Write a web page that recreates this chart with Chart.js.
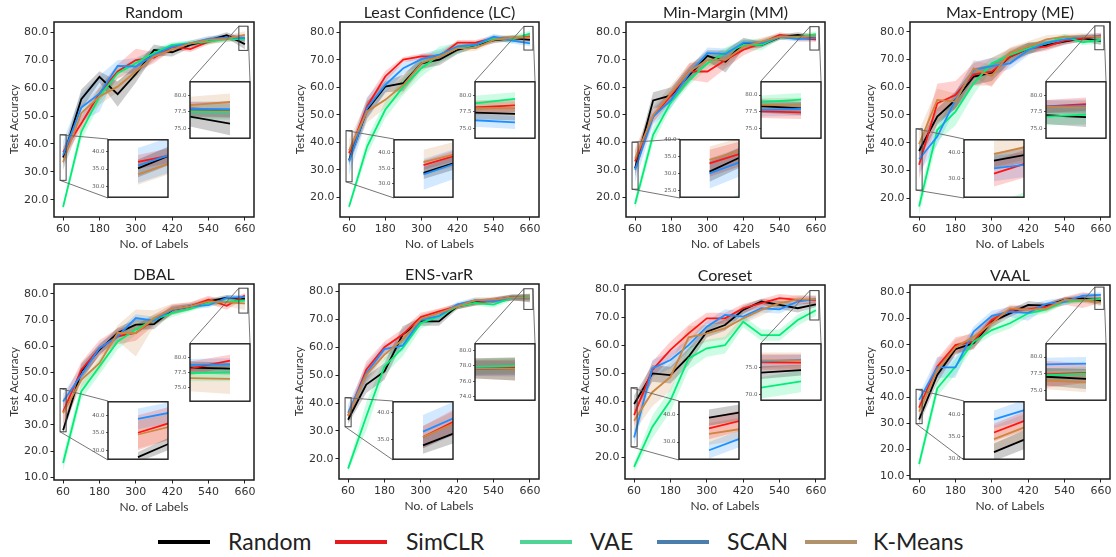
<!DOCTYPE html>
<html>
<head>
<meta charset="utf-8">
<script src="https://cdn.jsdelivr.net/npm/chart.js@4.4.1/dist/chart.umd.min.js"></script>
<style>
  html, body { margin: 0; padding: 0; background: #fff; }
  #fig { position: relative; width: 1116px; height: 557px; overflow: hidden; background: #fff; }
  #fig canvas { position: absolute; }
  .lg-line { position: absolute; height: 4px; width: 52px; }
  .lg-text { position: absolute; font-family: Lato, "DejaVu Sans", sans-serif; font-size: 23px; line-height: 26px; color: #222; white-space: nowrap; }
</style>
</head>
<body>
<div id="fig"></div>
<script>
// ---- data --------------------------------------------------------------
const LABEL_COUNTS = [60, 120, 180, 240, 300, 360, 420, 480, 540, 600, 660];
const X_TICKS = [60, 180, 300, 420, 540, 660];
const METHODS = ['Random', 'SimCLR', 'VAE', 'SCAN', 'K-Means'];
const STRATEGIES = ['Random', 'Least Confidence (LC)', 'Min-Margin (MM)', 'Max-Entropy (ME)',
                    'DBAL', 'ENS-varR', 'Coreset', 'VAAL'];

// mean test accuracy per method (rows: Random, SimCLR, VAE, SCAN, K-Means)
const RANDOM_ACC = [
  [35.2, 56.0, 64.0, 57.8, 65.0, 73.6, 72.8, 75.4, 77.0, 78.9, 75.7],
  [37.0, 47.3, 58.0, 65.9, 70.0, 70.9, 74.8, 73.9, 76.6, 78.0, 77.8],
  [17.5, 44.3, 57.0, 65.3, 68.9, 72.5, 75.4, 76.0, 76.6, 77.5, 77.5],
  [36.0, 53.0, 58.0, 67.9, 67.7, 71.9, 74.8, 76.0, 77.6, 78.0, 77.9],
  [33.5, 51.0, 57.0, 60.5, 65.9, 71.3, 73.7, 76.0, 77.2, 77.6, 79.0]
];
const RANDOM_STD = [
  [2.5, 3.5, 2.0, 4.5, 3.0, 2.0, 1.5, 1.0, 1.0, 1.0, 1.8],
  [2.0, 2.5, 2.5, 2.5, 4.0, 2.0, 1.0, 1.0, 1.0, 1.0, 1.2],
  [1.0, 3.0, 3.0, 2.0, 1.5, 1.5, 1.0, 1.0, 1.0, 1.0, 1.2],
  [5.0, 5.0, 6.5, 2.0, 3.0, 2.0, 1.0, 1.0, 1.0, 1.0, 1.2],
  [3.0, 3.0, 3.0, 2.0, 2.0, 1.5, 1.0, 1.0, 1.2, 1.2, 1.3]
];

const LC_ACC = [
  [33.5, 51.8, 60.2, 61.5, 68.7, 70.0, 73.6, 75.4, 77.0, 77.8, 77.2],
  [36.0, 53.0, 63.9, 70.0, 71.2, 71.2, 76.2, 76.2, 77.8, 77.6, 78.5],
  [16.5, 38.4, 51.8, 60.2, 66.9, 71.8, 74.2, 75.4, 77.8, 77.4, 79.5],
  [33.0, 52.4, 60.8, 66.9, 70.2, 71.8, 74.8, 75.4, 78.4, 76.9, 75.9],
  [37.0, 51.2, 55.4, 60.8, 68.7, 71.2, 74.2, 74.2, 77.2, 78.0, 78.1]
];
const LC_STD = [
  [2.0, 3.0, 2.0, 3.0, 2.0, 2.0, 1.5, 1.0, 1.0, 1.0, 1.0],
  [1.5, 3.0, 2.0, 1.0, 1.0, 1.0, 1.0, 1.0, 1.0, 1.0, 1.0],
  [1.0, 3.0, 3.0, 3.0, 3.0, 3.0, 2.0, 1.0, 1.0, 1.5, 1.0],
  [5.0, 4.0, 3.0, 2.0, 2.0, 2.0, 1.5, 1.0, 1.0, 1.0, 1.0],
  [4.0, 4.0, 3.0, 3.0, 3.0, 2.0, 1.5, 1.0, 1.0, 1.0, 1.0]
];

const MM_ACC = [
  [30.5, 55.2, 57.0, 64.5, 71.4, 69.3, 76.0, 75.4, 78.2, 79.0, 78.0],
  [33.0, 49.3, 57.2, 65.7, 65.7, 69.9, 73.6, 76.0, 79.0, 77.8, 77.4],
  [17.5, 42.7, 54.8, 62.7, 68.7, 72.4, 75.4, 75.4, 78.4, 78.2, 79.3],
  [30.0, 49.3, 55.4, 65.1, 72.4, 72.1, 76.2, 76.0, 78.4, 77.5, 77.9],
  [34.0, 49.9, 57.8, 65.7, 69.9, 69.9, 74.8, 76.6, 78.4, 78.4, 78.6]
];
const MM_STD = [
  [3.0, 3.0, 3.0, 3.0, 2.0, 4.0, 2.0, 1.0, 1.0, 1.0, 1.0],
  [4.0, 2.0, 2.0, 3.0, 4.0, 3.0, 2.0, 1.5, 1.0, 1.0, 1.0],
  [2.0, 3.0, 2.0, 2.0, 2.0, 2.0, 2.0, 2.0, 1.0, 1.0, 1.0],
  [4.5, 3.0, 3.0, 2.0, 2.0, 2.0, 1.0, 1.0, 1.0, 1.0, 1.0],
  [4.0, 3.0, 3.0, 3.0, 2.0, 2.0, 1.5, 1.5, 1.0, 1.0, 1.0]
];

const ME_ACC = [
  [37.0, 49.4, 55.4, 63.8, 65.2, 71.0, 74.0, 75.2, 76.4, 77.6, 76.7],
  [32.0, 54.2, 57.2, 64.6, 65.6, 71.0, 74.0, 74.6, 76.8, 77.6, 78.7],
  [17.0, 44.6, 51.2, 61.4, 68.6, 71.6, 74.0, 75.8, 78.2, 76.2, 77.1],
  [34.0, 42.2, 55.4, 66.2, 67.6, 68.6, 73.4, 76.0, 77.2, 78.2, 78.4],
  [39.5, 55.4, 54.8, 66.8, 64.0, 72.4, 74.6, 77.2, 78.2, 78.4, 78.2]
];
const ME_STD = [
  [3.0, 3.0, 3.0, 3.0, 3.0, 2.0, 2.0, 1.5, 1.0, 1.0, 1.5],
  [5.0, 7.0, 5.0, 4.0, 5.0, 3.0, 2.0, 1.5, 1.5, 1.0, 1.0],
  [3.0, 4.0, 5.0, 4.0, 2.0, 2.0, 2.0, 1.0, 1.0, 1.0, 1.5],
  [5.0, 3.0, 3.0, 3.0, 3.0, 2.0, 2.0, 1.0, 1.0, 1.0, 1.0],
  [5.0, 4.0, 3.0, 3.0, 4.0, 2.0, 2.0, 1.5, 1.0, 1.0, 1.0]
];

const DBAL_ACC = [
  [28.0, 50.4, 58.7, 65.1, 68.3, 68.5, 74.0, 75.3, 77.2, 78.6, 78.1],
  [35.0, 51.0, 59.3, 63.8, 65.1, 70.2, 74.0, 75.3, 77.8, 75.5, 79.4],
  [15.5, 42.8, 52.3, 61.9, 66.4, 70.2, 72.7, 74.3, 76.6, 77.0, 77.5],
  [39.0, 49.1, 59.3, 63.8, 70.8, 69.8, 74.0, 75.3, 75.7, 78.5, 78.8],
  [34.5, 47.2, 53.6, 65.1, 65.1, 70.8, 74.3, 75.3, 77.2, 76.8, 76.4]
];
const DBAL_STD = [
  [1.5, 3.0, 2.0, 2.0, 2.0, 2.0, 1.5, 1.0, 1.0, 1.0, 1.0],
  [5.0, 3.0, 3.0, 3.0, 3.0, 2.0, 2.0, 1.5, 1.5, 1.5, 1.0],
  [3.0, 3.0, 3.0, 3.0, 2.0, 2.0, 1.5, 1.0, 1.0, 1.0, 1.5],
  [3.0, 3.0, 2.0, 2.0, 1.5, 1.5, 1.0, 1.0, 1.0, 1.0, 1.0],
  [4.0, 3.0, 3.0, 3.0, 9.0, 3.0, 2.0, 1.5, 1.5, 1.5, 2.5]
];

const ENS_ACC = [
  [34.0, 46.6, 51.3, 64.5, 69.2, 69.2, 74.6, 76.0, 76.8, 77.8, 77.6],
  [35.5, 51.9, 60.0, 64.5, 70.8, 72.8, 74.6, 75.8, 76.8, 77.6, 77.8],
  [16.5, 35.2, 53.1, 59.7, 68.6, 71.0, 74.6, 75.8, 75.2, 77.6, 78.0],
  [36.5, 50.7, 59.3, 60.5, 69.8, 71.2, 75.2, 76.8, 76.4, 77.8, 77.6],
  [35.5, 50.1, 57.3, 62.7, 70.1, 72.2, 74.6, 76.8, 77.0, 77.8, 77.6]
];
const ENS_STD = [
  [1.5, 3.0, 3.0, 3.0, 1.5, 1.5, 1.0, 1.0, 1.0, 1.0, 1.5],
  [2.0, 3.0, 2.0, 2.0, 1.5, 1.0, 1.0, 1.0, 1.0, 1.0, 1.0],
  [1.0, 5.0, 3.0, 3.0, 2.0, 1.5, 1.0, 1.0, 1.0, 1.0, 1.0],
  [3.0, 3.0, 2.0, 2.0, 1.5, 1.5, 1.0, 1.0, 1.0, 1.0, 1.0],
  [2.0, 3.0, 2.0, 2.0, 1.5, 1.5, 1.0, 1.0, 1.0, 1.0, 1.5]
];

const CORESET_ACC = [
  [39.0, 49.9, 49.3, 55.9, 64.8, 67.2, 72.6, 75.6, 74.4, 73.2, 74.6],
  [35.0, 51.1, 58.3, 64.2, 69.6, 69.6, 73.2, 75.0, 76.8, 76.2, 76.0],
  [16.5, 30.8, 40.3, 55.3, 58.9, 60.0, 68.4, 63.6, 63.6, 69.0, 72.5],
  [27.0, 51.7, 54.7, 60.0, 66.6, 70.8, 70.2, 73.2, 72.8, 75.6, 76.5],
  [33.0, 43.2, 48.7, 62.8, 64.2, 66.0, 69.6, 72.6, 75.0, 76.4, 76.4]
];
const CORESET_STD = [
  [3.0, 3.0, 3.0, 3.0, 2.0, 2.0, 1.5, 1.0, 1.5, 1.5, 1.0],
  [4.0, 3.0, 3.0, 3.0, 2.0, 2.0, 1.5, 1.5, 1.5, 1.5, 1.5],
  [1.5, 4.0, 4.0, 4.0, 3.0, 3.0, 2.0, 2.0, 2.0, 2.0, 2.0],
  [3.0, 3.0, 3.0, 2.0, 2.0, 2.0, 2.0, 1.5, 1.5, 1.5, 1.0],
  [4.0, 5.0, 5.0, 4.0, 3.0, 4.0, 2.0, 2.0, 1.5, 1.5, 1.5]
];

const VAAL_ACC = [
  [31.5, 48.5, 58.3, 60.6, 68.8, 72.0, 75.2, 74.9, 77.1, 77.7, 76.7],
  [36.0, 51.7, 59.9, 61.2, 69.5, 73.3, 73.5, 74.5, 76.8, 77.0, 77.6],
  [14.5, 43.4, 51.7, 61.2, 65.6, 68.2, 72.0, 73.5, 76.4, 76.8, 77.5],
  [39.0, 51.4, 51.4, 65.0, 71.0, 72.6, 72.2, 75.6, 76.4, 78.7, 79.0],
  [34.5, 50.4, 59.0, 63.1, 68.2, 73.9, 73.3, 73.9, 77.1, 77.0, 76.2]
];
const VAAL_STD = [
  [2.0, 3.0, 2.0, 2.0, 2.0, 1.5, 1.5, 1.0, 1.0, 1.0, 1.5],
  [2.0, 3.0, 3.0, 3.0, 2.0, 1.5, 1.5, 1.5, 1.5, 3.0, 1.5],
  [2.0, 3.0, 3.0, 2.0, 2.0, 2.0, 1.5, 1.5, 1.0, 1.0, 1.0],
  [2.0, 4.0, 4.0, 2.0, 2.0, 2.0, 3.0, 1.5, 1.5, 1.0, 1.0],
  [3.0, 3.0, 3.0, 2.0, 2.0, 1.5, 1.5, 1.5, 1.0, 1.0, 1.5]
];

// axis limits and tick values of each panel
const Y_LIMITS = [[13.9, 83.6], [12.8, 83.7], [12.8, 83.7], [13.2, 83.5],
                  [9.0, 83.8], [12.8, 82.6], [12.2, 81.5], [8.8, 82.8]];
const Y_TICKS = [
  [20, 30, 40, 50, 60, 70, 80], [20, 30, 40, 50, 60, 70, 80],
  [20, 30, 40, 50, 60, 70, 80], [20, 30, 40, 50, 60, 70, 80],
  [10, 20, 30, 40, 50, 60, 70, 80], [20, 30, 40, 50, 60, 70, 80],
  [20, 30, 40, 50, 60, 70, 80], [10, 20, 30, 40, 50, 60, 70, 80]
];
// zoomed views: first labelling round and final labelling round
const LOW_ZOOM_X = [50, 70];
const HIGH_ZOOM_X = [640, 670];
const LOW_ZOOM_Y = [[27.0, 43.3], [25.6, 44.2], [22.9, 40.0], [22.9, 45.0],
                    [27.4, 43.9], [31.5, 41.9], [23.7, 44.8], [29.9, 43.0]];
const LOW_ZOOM_TICKS = [[30, 35, 40], [30, 35, 40], [25, 30, 35, 40], [30, 40],
                        [30, 35, 40], [35, 40], [30, 40], [30, 35, 40]];
const HIGH_ZOOM_Y = [[73.45, 82.1], [73.5, 82.1], [73.5, 82.0], [73.5, 82.1],
                     [72.7, 82.2], [73.5, 80.9], [69.0, 79.5], [73.5, 82.0]];
const HIGH_ZOOM_TICKS = [[75, 77.5, 80], [75, 77.5, 80], [75, 77.5, 80], [75, 77.5, 80],
                         [75, 77.5, 80], [74, 76, 78, 80], [70, 75], [75, 77.5, 80]];

// ---- styling & layout ---------------------------------------------------
const LINE_COLORS = ['#000000', '#ff1414', '#00ee76', '#1e8fff', '#cd853f'];
const LEGEND_COLORS = ['#000000', '#e41a1c', '#4fd496', '#4a7fad', '#b0926c'];
const BAND_ALPHA = 0.2;
const TEXT_COLOR = '#333333';

// plot frames in page pixels: [left, top, width, height]
const FRAMES = [
  [54, 22, 200, 195], [340, 22, 199, 195], [626, 22, 199, 195], [910, 22, 200, 195],
  [54, 284, 200, 196], [339, 284, 200, 195], [625, 285, 200, 194], [910, 285, 200, 194]
];
// inset boxes as fractions of the frame: [x0, y0, x1, y1], measured from the top-left
const LOW_BOX = [0.272, 0.598, 0.570, 0.900];
const HIGH_BOX = [0.680, 0.300, 0.978, 0.600];

const Y_AXIS_W = 47, X_AXIS_H = 34, PAD_TOP = 22, PAD_RIGHT = 10;
const INSET_AXIS_W = 22;

const ACC = [RANDOM_ACC, LC_ACC, MM_ACC, ME_ACC, DBAL_ACC, ENS_ACC, CORESET_ACC, VAAL_ACC];
const STD = [RANDOM_STD, LC_STD, MM_STD, ME_STD, DBAL_STD, ENS_STD, CORESET_STD, VAAL_STD];

const fig = document.getElementById('fig');

function rgba(hex, a) {
  const n = parseInt(hex.slice(1), 16);
  return `rgba(${(n >> 16) & 255},${(n >> 8) & 255},${n & 255},${a})`;
}

function makeCanvas(left, top, w, h) {
  const c = document.createElement('canvas');
  c.width = w; c.height = h;
  c.style.left = left + 'px'; c.style.top = top + 'px';
  c.style.width = w + 'px'; c.style.height = h + 'px';
  fig.appendChild(c);
  return c;
}

// shaded ±std bands first, mean curves on top (K-Means drawn last)
function buildDatasets(acc, std, lw) {
  const ds = [];
  acc.forEach((mean, m) => {
    const s = std[m];
    ds.push({
      data: LABEL_COUNTS.map((x, i) => ({ x, y: mean[i] + s[i] })),
      fill: '+1', backgroundColor: rgba(LINE_COLORS[m], BAND_ALPHA),
      borderColor: 'rgba(0,0,0,0)', borderWidth: 0, pointRadius: 0, order: 20 + m
    });
    ds.push({
      data: LABEL_COUNTS.map((x, i) => ({ x, y: mean[i] - s[i] })),
      fill: false, borderColor: 'rgba(0,0,0,0)', borderWidth: 0, pointRadius: 0, order: 20 + m
    });
  });
  acc.forEach((mean, m) => {
    ds.push({
      label: METHODS[m],
      data: LABEL_COUNTS.map((x, i) => ({ x, y: mean[i] })),
      borderColor: LINE_COLORS[m], borderWidth: lw, fill: false,
      pointRadius: 0, tension: 0, order: 10 - m
    });
  });
  return ds;
}

// frame, title, zoom markers and connector lines of a main panel
const panelDecor = {
  id: 'panelDecor',
  afterDatasetsDraw(chart, args, o) {
    const { ctx, chartArea: a, scales: { x, y } } = chart;
    ctx.save();
    o.zooms.forEach(z => {
      const rx0 = x.getPixelForValue(z.xr[0]), rx1 = x.getPixelForValue(z.xr[1]);
      const ry0 = y.getPixelForValue(z.yr[1]), ry1 = y.getPixelForValue(z.yr[0]);
      const b = z.box.map((v, i) => v - (i % 2 === 0 ? o.offX : o.offY));
      const rc = { ul: [rx0, ry0], ur: [rx1, ry0], ll: [rx0, ry1], lr: [rx1, ry1] };
      const bc = { ul: [b[0], b[1]], ur: [b[2], b[1]], ll: [b[0], b[3]], lr: [b[2], b[3]] };
      ctx.strokeStyle = '#666';
      ctx.lineWidth = 0.9;
      z.links.forEach(k => {
        ctx.beginPath();
        ctx.moveTo(rc[k][0], rc[k][1]);
        ctx.lineTo(bc[k][0], bc[k][1]);
        ctx.stroke();
      });
      ctx.strokeStyle = '#444';
      ctx.lineWidth = 1;
      ctx.strokeRect(rx0, ry0, rx1 - rx0, ry1 - ry0);
    });
    ctx.strokeStyle = '#1a1a1a';
    ctx.lineWidth = 1.5;
    ctx.strokeRect(a.left, a.top, a.right - a.left, a.bottom - a.top);
    ctx.fillStyle = '#222';
    ctx.font = '16px Lato, "DejaVu Sans", sans-serif';
    ctx.textAlign = 'center';
    ctx.textBaseline = 'middle';
    ctx.fillText(o.title, (a.left + a.right) / 2, a.top - 9);
    ctx.restore();
  }
};

// white background and black frame of an inset
const insetDecor = {
  id: 'insetDecor',
  beforeDatasetsDraw(chart) {
    const { ctx, chartArea: a } = chart;
    ctx.save();
    ctx.fillStyle = '#fff';
    ctx.fillRect(a.left, a.top, a.right - a.left, a.bottom - a.top);
    ctx.restore();
  },
  afterDatasetsDraw(chart) {
    const { ctx, chartArea: a } = chart;
    ctx.save();
    ctx.strokeStyle = '#1a1a1a';
    ctx.lineWidth = 1.4;
    ctx.strokeRect(a.left, a.top, a.right - a.left, a.bottom - a.top);
    ctx.restore();
  }
};

function boxFromFrame(f, frac) {
  return [Math.round(f[0] + frac[0] * f[2]), Math.round(f[1] + frac[1] * f[3]),
          Math.round(f[0] + frac[2] * f[2]), Math.round(f[1] + frac[3] * f[3])];
}

function drawMain(p) {
  const f = FRAMES[p];
  const left = f[0] - Y_AXIS_W, top = f[1] - PAD_TOP;
  const w = Y_AXIS_W + f[2] + PAD_RIGHT, h = PAD_TOP + f[3] + X_AXIS_H;
  const c = makeCanvas(left, top, w, h);
  const lowBox = boxFromFrame(f, LOW_BOX), highBox = boxFromFrame(f, HIGH_BOX);
  new Chart(c, {
    type: 'line',
    data: { datasets: buildDatasets(ACC[p], STD[p], 1.8) },
    plugins: [panelDecor],
    options: {
      responsive: false, animation: false, devicePixelRatio: 1,
      layout: { padding: { left: 0, right: PAD_RIGHT, top: PAD_TOP, bottom: 0 } },
      plugins: {
        legend: { display: false }, tooltip: { enabled: false },
        panelDecor: {
          title: STRATEGIES[p], offX: left, offY: top,
          zooms: [
            { xr: LOW_ZOOM_X, yr: LOW_ZOOM_Y[p], box: lowBox, links: ['ul', 'll'] },
            { xr: HIGH_ZOOM_X, yr: HIGH_ZOOM_Y[p], box: highBox, links: ['ul', 'ur'] }
          ]
        }
      },
      scales: {
        x: {
          type: 'linear', min: 30, max: 690,
          afterBuildTicks: s => { s.ticks = X_TICKS.map(v => ({ value: v })); },
          afterFit: s => { s.height = X_AXIS_H; },
          border: { display: false },
          grid: { drawOnChartArea: false, drawTicks: true, tickLength: 3.5, color: '#222', lineWidth: 1 },
          ticks: { font: { family: 'DejaVu Sans', size: 11 }, color: TEXT_COLOR, padding: 2,
                   maxRotation: 0, autoSkip: false, callback: v => String(v) },
          title: { display: true, text: 'No. of Labels', color: TEXT_COLOR, padding: 0,
                   font: { family: 'Lato', size: 12 } }
        },
        y: {
          type: 'linear', min: Y_LIMITS[p][0], max: Y_LIMITS[p][1],
          afterBuildTicks: s => { s.ticks = Y_TICKS[p].map(v => ({ value: v })); },
          afterFit: s => { s.width = Y_AXIS_W; },
          border: { display: false },
          grid: { drawOnChartArea: false, drawTicks: true, tickLength: 3.5, color: '#222', lineWidth: 1 },
          ticks: { font: { family: 'DejaVu Sans', size: 11 }, color: TEXT_COLOR, padding: 2,
                   autoSkip: false, callback: v => Number(v).toFixed(1) },
          title: { display: true, text: 'Test Accuracy', color: TEXT_COLOR, padding: 0,
                   font: { family: 'Lato', size: 11.5 } }
        }
      }
    }
  });
  drawInset(p, lowBox, LOW_ZOOM_X, LOW_ZOOM_Y[p], LOW_ZOOM_TICKS[p]);
  drawInset(p, highBox, HIGH_ZOOM_X, HIGH_ZOOM_Y[p], HIGH_ZOOM_TICKS[p]);
}

function drawInset(p, box, xr, yr, yticks) {
  const padT = 4, padB = 4, padR = 3;
  const left = box[0] - INSET_AXIS_W, top = box[1] - padT;
  const w = INSET_AXIS_W + (box[2] - box[0]) + padR, h = padT + (box[3] - box[1]) + padB;
  const c = makeCanvas(left, top, w, h);
  new Chart(c, {
    type: 'line',
    data: { datasets: buildDatasets(ACC[p], STD[p], 1.8) },
    plugins: [insetDecor],
    options: {
      responsive: false, animation: false, devicePixelRatio: 1,
      layout: { padding: { left: 0, right: padR, top: padT, bottom: padB } },
      plugins: { legend: { display: false }, tooltip: { enabled: false } },
      scales: {
        x: { type: 'linear', min: xr[0], max: xr[1], display: false },
        y: {
          type: 'linear', min: yr[0], max: yr[1],
          afterBuildTicks: s => { s.ticks = yticks.map(v => ({ value: v })); },
          afterFit: s => { s.width = INSET_AXIS_W; },
          border: { display: false },
          grid: { drawOnChartArea: false, drawTicks: true, tickLength: 2, color: '#333', lineWidth: 0.8 },
          ticks: { font: { family: 'DejaVu Sans', size: 5.5 }, color: '#555', padding: 1.5,
                   autoSkip: false, callback: v => Number(v).toFixed(1) }
        }
      }
    }
  });
}

for (let p = 0; p < STRATEGIES.length; p++) drawMain(p);

// legend along the bottom
const LEGEND_X = [[158, 228], [335, 406], [520, 590], [657, 727], [805, 873]];
METHODS.forEach((name, m) => {
  const line = document.createElement('div');
  line.className = 'lg-line';
  line.style.left = LEGEND_X[m][0] + 'px';
  line.style.top = '540px';
  line.style.background = LEGEND_COLORS[m];
  fig.appendChild(line);
  const t = document.createElement('div');
  t.className = 'lg-text';
  t.style.left = LEGEND_X[m][1] + 'px';
  t.style.top = '528px';
  t.textContent = name;
  fig.appendChild(t);
});
</script>
</body>
</html>
